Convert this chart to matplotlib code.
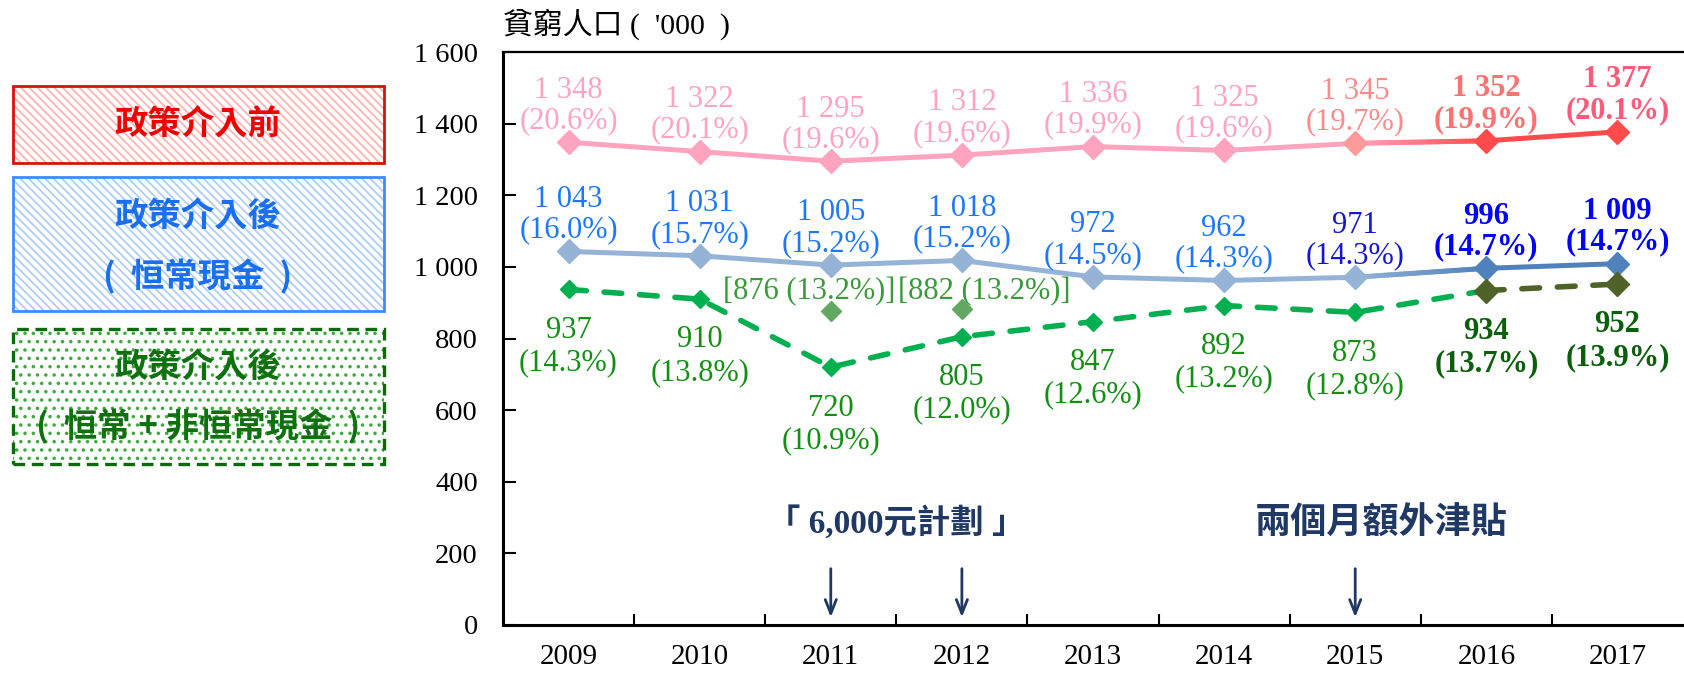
import matplotlib.pyplot as plt
from matplotlib.patches import Rectangle
from matplotlib.collections import LineCollection
from matplotlib.colors import to_rgb
from matplotlib.ticker import FuncFormatter
import numpy as np

years = ["2009", "2010", "2011", "2012", "2013", "2014", "2015", "2016", "2017"]
pre = [1348, 1322, 1295, 1312, 1336, 1325, 1345, 1352, 1377]
pre_rate = [20.6, 20.1, 19.6, 19.6, 19.9, 19.6, 19.7, 19.9, 20.1]
rec = [1043, 1031, 1005, 1018, 972, 962, 971, 996, 1009]
rec_rate = [16.0, 15.7, 15.2, 15.2, 14.5, 14.3, 14.3, 14.7, 14.7]
allc = [937, 910, 720, 805, 847, 892, 873, 934, 952]
all_rate = [14.3, 13.8, 10.9, 12.0, 12.6, 13.2, 12.8, 13.7, 13.9]
excl_idx = [2, 3]
excl = [876, 882]
excl_rate = [13.2, 13.2]

SERIF = ["Liberation Serif", "Noto Sans CJK TC"]
CJK = ["Noto Sans CJK TC", "DejaVu Sans"]
plt.rcParams["font.family"] = SERIF


def fmt(v):
    return f"{v:,}".replace(",", " ")


def grad_line(ax, x0, x1, y0, y1, c0, c1, lw, n=40):
    xs = np.linspace(x0, x1, n + 1)
    ys = np.linspace(y0, y1, n + 1)
    segs = [[(xs[i], ys[i]), (xs[i + 1], ys[i + 1])] for i in range(n)]
    a, b = np.array(to_rgb(c0)), np.array(to_rgb(c1))
    cols = [a + (b - a) * (i / (n - 1)) for i in range(n)]
    ax.add_collection(LineCollection(segs, colors=cols, linewidths=lw,
                                     capstyle="round", zorder=2))


W, H = 1684, 674
fig = plt.figure(figsize=(W / 100, H / 100), dpi=100)
ax = fig.add_axes([503 / W, 1 - 625 / H, (1683 - 503) / W, (625 - 52) / H])

x = np.arange(len(years))

# pre-intervention line
ax.plot(x[:7], pre[:7], color="#FFA3BF", lw=3.6, zorder=2, solid_capstyle="round")
grad_line(ax, 6, 7, pre[6], pre[7], "#FFA3BF", "#FF4D4D", 3.6)
ax.plot(x[7:], pre[7:], color="#FF4B4B", lw=3.6, zorder=2)
pre_mk = ["#FFA3BF"] * 6 + ["#FF9A9A", "#FF4B4B", "#FF4B4B"]
for i in x:
    ax.plot(i, pre[i], marker="D", ms=12, color=pre_mk[i], mec=pre_mk[i], zorder=3)

# recurrent cash line
ax.plot(x[:7], rec[:7], color="#95B3D7", lw=3.6, zorder=2)
grad_line(ax, 6, 7, rec[6], rec[7], "#95B3D7", "#4F81BD", 3.6)
ax.plot(x[7:], rec[7:], color="#4F81BD", lw=3.6, zorder=2)
rec_mk = ["#95B3D7"] * 7 + ["#4F81BD", "#4F81BD"]
for i in x:
    ax.plot(i, rec[i], marker="D", ms=12, color=rec_mk[i], zorder=3)

# recurrent + non-recurrent cash line
dash = (0, (3.2, 3.2))
ax.plot(x[:8], allc[:8], color="#00B050", lw=4, ls=dash, dash_capstyle="round",
        zorder=2)
ax.plot(x[7:], allc[7:], color="#4F6228", lw=4, ls=dash, dash_capstyle="round",
        zorder=2)
all_mk = ["#00B050"] * 7 + ["#4F6228", "#4F6228"]
for i in x:
    ax.plot(i, allc[i], marker="D", ms=9 if i < 7 else 12, color=all_mk[i], zorder=3)

# excluding one-off measures
for k, i in enumerate(excl_idx):
    ax.plot(i, excl[k], marker="D", ms=10, color="#62A862", zorder=3, ls="none")
ax.text(2.49, 930, f"[{excl[0]} ({excl_rate[0]:.1f}%)]", ha="right", va="center",
        fontsize=22, color="#3A9A3A", family=SERIF)
ax.text(2.51, 930, f"[{excl[1]} ({excl_rate[1]:.1f}%)]", ha="left", va="center",
        fontsize=22, color="#3A9A3A", family=SERIF)

# data labels
pre_col = ["#FFA3C4"] * 6 + ["#FF8A8A", "#FF7272", "#FF5A7A"]
rec_col = ["#1E78FF"] * 6 + ["#1515D8", "#0000FF", "#0000FF"]
all_col = ["#138F13"] * 7 + ["#0B5E0B", "#0B5E0B"]
for i in x:
    bold = "bold" if i >= 7 else "normal"
    ax.annotate(f"{fmt(pre[i])}\n({pre_rate[i]:.1f}%)", (i, pre[i]),
                xytext=(0, 5), textcoords="offset points", ha="center",
                va="bottom", fontsize=22, color=pre_col[i], weight=bold,
                linespacing=1.08)
    ax.annotate(f"{fmt(rec[i])}\n({rec_rate[i]:.1f}%)", (i, rec[i]),
                xytext=(0, 5), textcoords="offset points", ha="center",
                va="bottom", fontsize=22, color=rec_col[i], weight=bold,
                linespacing=1.08)
    ax.annotate(f"{fmt(allc[i])}\n({all_rate[i]:.1f}%)", (i, allc[i]),
                xytext=(0, -19), textcoords="offset points", ha="center",
                va="top", fontsize=22, color=all_col[i], weight=bold,
                linespacing=1.15)

# policy annotations
navy = "#1F3864"
ax.text(2.5, 285, "「 6,000元計劃 」", ha="center", va="center", fontsize=24,
        weight="bold", color=navy, family=SERIF)
ax.text(6.2, 285, "兩個月額外津貼", ha="center", va="center", fontsize=26,
        weight="bold", color=navy, family=CJK)
for i in [2, 3, 6]:
    ax.annotate("", xy=(i, 14), xytext=(i, 165),
                arrowprops=dict(arrowstyle="->,head_length=1.0,head_width=0.4",
                                color=navy, lw=2))

# axes styling
ax.set_xlim(-0.5, 8.5)
ax.set_ylim(0, 1600)
ax.set_yticks(np.arange(0, 1601, 200))
ax.yaxis.set_major_formatter(FuncFormatter(lambda v, p: fmt(int(v))))
ax.tick_params(axis="y", direction="in", length=9, width=1.5, pad=18,
               labelsize=20.5)
ax.set_xticks(x)
ax.set_xticklabels(years, fontsize=21)
ax.tick_params(axis="x", which="major", length=0, pad=14)
ax.set_xticks(np.arange(0.5, 8, 1), minor=True)
ax.tick_params(axis="x", which="minor", direction="in", length=8, width=1.5)
for s in ["left", "bottom"]:
    ax.spines[s].set_linewidth(2.2)
ax.spines["top"].set_linewidth(1.6)
ax.spines["right"].set_visible(False)

fig.text(503 / W, 1 - 24 / H, "貧窮人口 (  '000  )", ha="left", va="center",
         fontsize=21.5, family=SERIF)

# legend boxes on the left
def box(y0, y1, edge, hatch_col, hatch, ls="-", lw=2):
    r = Rectangle((13 / W, 1 - y1 / H), (384 - 13) / W, (y1 - y0) / H,
                  transform=fig.transFigure, facecolor="none",
                  edgecolor=hatch_col, hatch=hatch, lw=0)
    fig.add_artist(r)
    b = Rectangle((13 / W, 1 - y1 / H), (384 - 13) / W, (y1 - y0) / H,
                  transform=fig.transFigure, facecolor="none",
                  edgecolor=edge, lw=lw, ls=ls)
    fig.add_artist(b)


plt.rcParams["hatch.linewidth"] = 1.3
box(86, 163, "#D81010", "#FFB4B4", "\\\\\\\\")
box(177, 311, "#3D8BFF", "#AECFF5", "\\\\\\\\")
box(329, 464, "#0B6B0B", "#3DAA3D", "..", ls=(0, (3.5, 2)), lw=2.4)

fig.text(198 / W, 1 - 125 / H, "政策介入前", ha="center", va="center",
         fontsize=24, weight="bold", color="#F00000", family=CJK)
fig.text(198 / W, 1 - 217 / H, "政策介入後", ha="center", va="center",
         fontsize=24, weight="bold", color="#1A6EF0", family=CJK)
fig.text(198 / W, 1 - 277 / H, "(  恒常現金  )", ha="center", va="center",
         fontsize=24, weight="bold", color="#1A6EF0", family=CJK)
fig.text(198 / W, 1 - 368 / H, "政策介入後", ha="center", va="center",
         fontsize=24, weight="bold", color="#0E700E", family=CJK)
fig.text(198 / W, 1 - 427 / H, "(  恒常 + 非恒常現金  )", ha="center", va="center",
         fontsize=24, weight="bold", color="#0E700E", family=CJK)

fig.savefig("out.png", dpi=100)
